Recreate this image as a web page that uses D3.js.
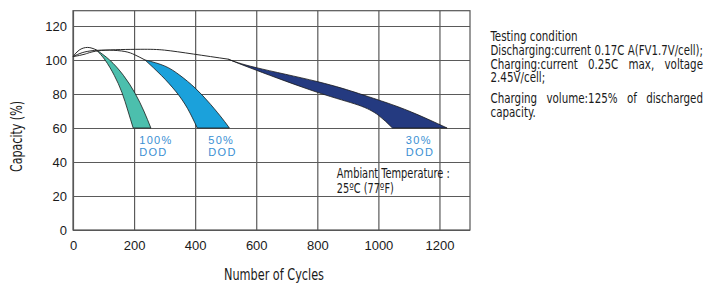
<!DOCTYPE html>
<html>
<head>
<meta charset="utf-8">
<script src="https://cdn.jsdelivr.net/npm/d3@7"></script>
<style>
  body { margin: 0; background: #fff; }
  svg { display: block; }
</style>
</head>
<body>
<div id="chart-area"></div>
<script>
// ticks
const xTicks = [0, 200, 400, 600, 800, 1000, 1200];
const yTicks = [0, 20, 40, 60, 80, 100, 120];

// 100% DOD : curve before the band, then upper / lower edge of the band
const line100Cycles = [0, 20, 48, 76];
const line100Cap = [102, 105.8, 107.4, 106];
const upper100Cycles = [76, 120, 165, 203, 232, 255];
const upper100Cap = [106, 100, 91, 80.5, 70, 60];
const lower100Cycles = [76, 105, 135, 160, 180, 197];
const lower100Cap = [106, 100, 91, 81, 70, 60];

// 50% DOD
const line50Cycles = [0, 30, 70, 120, 170, 203, 236];
const line50Cap = [102, 104.3, 105.6, 105.8, 105, 103, 100];
const upper50Cycles = [236, 300, 350, 400, 450, 490, 512];
const upper50Cap = [100, 96.5, 91, 83.5, 74, 65.3, 60];
const lower50Cycles = [236, 290, 338, 375, 407];
const lower50Cap = [100, 90.8, 81.2, 71.5, 60];

// 30% DOD
const line30Cycles = [0, 40, 94, 220, 300, 394, 508];
const line30Cap = [102, 103.5, 105.6, 106.3, 105.8, 103.5, 100.5];
const upper30Cycles = [508, 600, 800, 934, 1000, 1100, 1225];
const upper30Cap = [100.5, 95.5, 87.3, 80.4, 76.5, 70, 60];
const lower30Cycles = [508, 600, 800, 934, 1000, 1046];
const lower30Cap = [100.5, 94, 81, 73.5, 67.5, 60];

const dodLabels = ['100%', '50%', '30%'];
const dodColors = ['#4cbfad', '#1ba1db', '#243a80'];

const noteText = [
    'Testing condition',
    'Discharging:current 0.17C A(FV1.7V/cell);',
    'Charging:current 0.25C max, voltage',
    '2.45V/cell;',
    'Charging volume:125% of discharged',
    'capacity.'
];
const noteJustify = [false, true, true, false, true, false];

const zip = (xs, ys) => xs.map((x, i) => [x, ys[i]]);

const width = 708, height = 284;
const margin = { top: 10.7, right: 238, bottom: 54, left: 73 };
const innerWidth = width - margin.left - margin.right;
const innerHeight = height - margin.top - margin.bottom;

const condensed = "'Liberation Sans Narrow', 'DejaVu Sans Condensed', 'Liberation Sans', sans-serif";

const svg = d3.select('#chart-area').append('svg')
    .attr('width', width)
    .attr('height', height);

const g = svg.append('g')
    .attr('transform', `translate(${margin.left}, ${margin.top})`);

const xScale = d3.scaleLinear().domain([0, 1300]).range([0, innerWidth]);
const yScale = d3.scaleLinear().domain([0, 129]).range([innerHeight, 0]);

// grid
g.append('g')
    .call(d3.axisBottom(xScale).tickValues(xTicks).tickSize(innerHeight).tickFormat(''))
    .call(s => s.select('.domain').remove())
    .selectAll('line').attr('stroke', '#5a5a5a').attr('stroke-width', 1.2);

g.append('g')
    .call(d3.axisLeft(yScale).tickValues(yTicks).tickSize(-innerWidth).tickFormat(''))
    .call(s => s.select('.domain').remove())
    .selectAll('line').attr('stroke', '#5a5a5a').attr('stroke-width', 1.2);

// frame
g.append('rect')
    .attr('width', innerWidth)
    .attr('height', innerHeight)
    .attr('fill', 'none')
    .attr('stroke', '#555')
    .attr('stroke-width', 1.2);

// tick labels
const xAxis = g.append('g')
    .attr('transform', `translate(0, ${innerHeight})`)
    .call(d3.axisBottom(xScale).tickValues(xTicks).tickFormat(d3.format('d')).tickSize(0).tickPadding(11));
xAxis.select('.domain').remove();
xAxis.selectAll('text')
    .attr('font-family', "'Liberation Sans', Arial, sans-serif")
    .attr('font-size', '13px')
    .attr('fill', '#1a1a1a');

const yAxis = g.append('g')
    .call(d3.axisLeft(yScale).tickValues(yTicks).tickSize(0).tickPadding(6));
yAxis.select('.domain').remove();
yAxis.selectAll('text')
    .attr('font-family', "'Liberation Sans', Arial, sans-serif")
    .attr('font-size', '13px')
    .attr('fill', '#1a1a1a');

// curves
const line = d3.line()
    .x(d => xScale(d[0]))
    .y(d => yScale(d[1]))
    .curve(d3.curveNatural);

const bands = [
    { line: zip(line100Cycles, line100Cap), upper: zip(upper100Cycles, upper100Cap), lower: zip(lower100Cycles, lower100Cap) },
    { line: zip(line50Cycles, line50Cap), upper: zip(upper50Cycles, upper50Cap), lower: zip(lower50Cycles, lower50Cap) },
    { line: zip(line30Cycles, line30Cap), upper: zip(upper30Cycles, upper30Cap), lower: zip(lower30Cycles, lower30Cap) }
];

bands.forEach((b, i) => {
    const up = line(b.upper);
    const low = line(b.lower.slice().reverse());
    g.append('path')
        .attr('d', up + 'L' + low.substring(1) + 'Z')
        .attr('fill', dodColors[i])
        .attr('stroke', '#1a1a1a')
        .attr('stroke-width', 0.8)
        .attr('stroke-linejoin', 'round');
});

bands.forEach(b => {
    g.append('path')
        .attr('d', line(b.line))
        .attr('fill', 'none')
        .attr('stroke', '#2a2a2a')
        .attr('stroke-width', 1);
});

// DOD labels
const dodPosCycles = [217, 443, 1090];
dodLabels.forEach((lab, i) => {
    const t = g.append('text')
        .attr('x', xScale(dodPosCycles[i]))
        .attr('y', yScale(50.3))
        .attr('font-family', "'Liberation Sans', Arial, sans-serif")
        .attr('font-size', '11px')
        .attr('letter-spacing', '1.3px')
        .attr('fill', '#3a8fd3');
    t.append('tspan').text(lab);
    t.append('tspan')
        .attr('x', xScale(dodPosCycles[i]))
        .attr('dy', '11.7')
        .text('DOD');
});

function fitText(sel, w) {
    sel.attr('textLength', w).attr('lengthAdjust', 'spacingAndGlyphs');
    return sel;
}

// ambient temperature note
const amb = g.append('g')
    .attr('font-family', condensed)
    .attr('font-size', '14px')
    .attr('fill', '#1a1a1a');
fitText(amb.append('text')
    .attr('x', xScale(864)).attr('y', yScale(30.6))
    .text('Ambiant Temperature :'), 113);
fitText(amb.append('text')
    .attr('x', xScale(864)).attr('y', yScale(30.6) + 14.7)
    .text('25\u00baC (77\u00baF)'), 57);

// axis titles
fitText(svg.append('text')
    .attr('x', 224).attr('y', 280)
    .attr('font-family', condensed)
    .attr('font-size', '16px')
    .attr('fill', '#1a1a1a')
    .text('Number of Cycles'), 100);

fitText(svg.append('text')
    .attr('transform', 'translate(22, 172) rotate(-90)')
    .attr('font-family', condensed)
    .attr('font-size', '15px')
    .attr('fill', '#1a1a1a')
    .text('Capacity (%)'), 71);

// testing condition block
const note = svg.append('g')
    .attr('font-family', condensed)
    .attr('font-size', '14px')
    .attr('fill', '#1a1a1a');

const noteX = 490.5, noteW = 212.5;
const noteY = [41.3, 54.8, 68.6, 82.3, 103.3, 116.8];

// horizontal squeeze taken from the first line
const probe = note.append('text').text(noteText[0]);
const k = 87 / probe.node().getComputedTextLength();
probe.remove();

noteText.forEach((str, li) => {
    if (!noteJustify[li]) {
        const t = note.append('text').attr('x', noteX).attr('y', noteY[li]).text(str);
        fitText(t, t.node().getComputedTextLength() * k);
        return;
    }
    const words = str.split(' ');
    const nodes = words.map(w => note.append('text').attr('y', noteY[li]).text(w));
    const widths = nodes.map(n => n.node().getComputedTextLength() * k);
    const total = d3.sum(widths);
    const minGap = 3.5;
    let kk = 1;
    let gap = (noteW - total) / (words.length - 1);
    if (gap < minGap) {
        kk = (noteW - minGap * (words.length - 1)) / total;
        gap = minGap;
    }
    let cx = noteX;
    nodes.forEach((n, i) => {
        n.attr('x', cx);
        fitText(n, widths[i] * kk);
        cx += widths[i] * kk + gap;
    });
});
</script>
</body>
</html>
